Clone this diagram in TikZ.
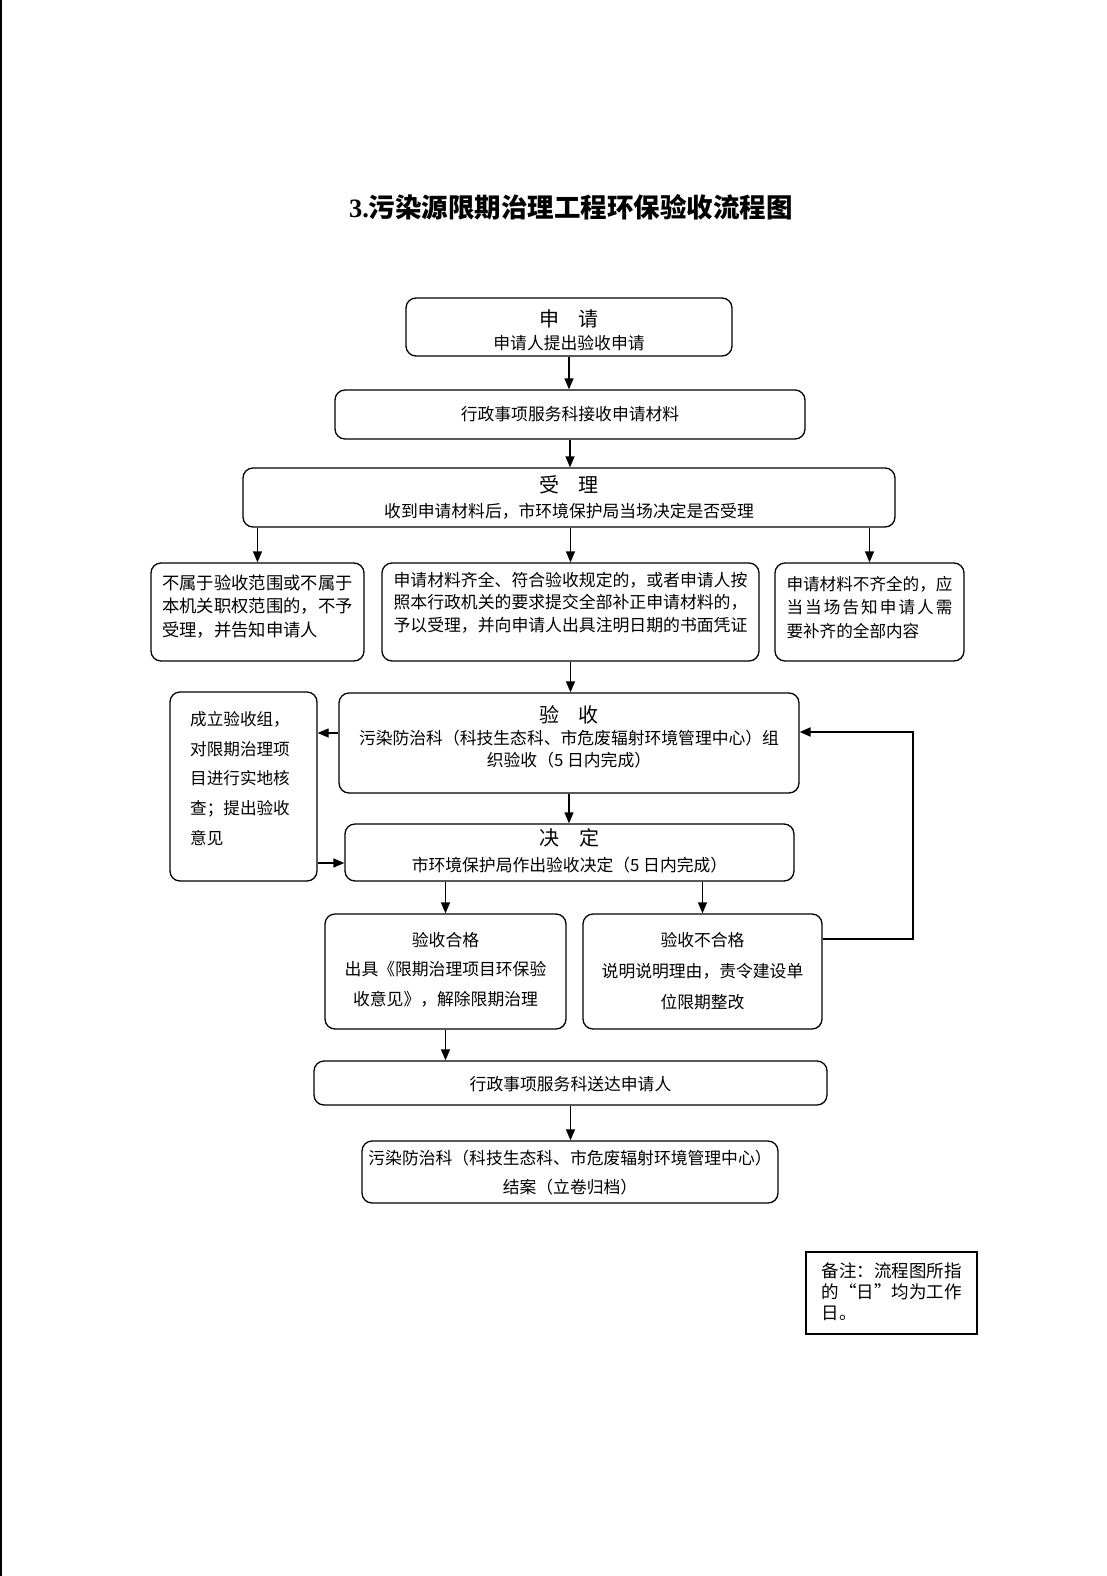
\documentclass[tikz,border=0pt]{standalone}
\usepackage{fontspec}
\setmainfont{Liberation Serif}
\newfontfamily\cjk{Noto Sans CJK SC}
\usetikzlibrary{arrows.meta}
\newcommand\fs[2]{\fontsize{#1}{#2}\selectfont}
\def\sprend{}
\def\sprx#1{\ifx#1\sprend\else\hfill#1\expandafter\sprx\fi}
\def\sprfirst#1{#1\sprx}
\newcommand\spreadto[2]{\hbox to #1{\sprfirst#2\sprend}}
\begin{document}
\begin{tikzpicture}[x=1pt,y=-1pt,
  box/.style={draw, rounded corners=10pt, line width=1.3pt, inner sep=0pt},
  notebox/.style={draw, line width=1.6pt, inner sep=0pt},
  txt/.style={font=\cjk\fs{16.8}{24}, align=center, inner sep=0pt},
  arr/.style={-{Triangle[length=11pt,width=9pt]}, line width=1.3pt},
  loopline/.style={-{Triangle[length=11pt,width=9pt]}, line width=2pt}]
\useasboundingbox (0,0) rectangle (1107,1576);
\draw[line width=1.6pt] (0.8,0) -- (0.8,1576);

% title
\node[inner sep=0pt] (title) at (571,207) {\fs{26.5}{30}{\bfseries 3.}{\cjk\bfseries 污染源限期治理工程环保验收流程图}};

% boxes
\node[box, minimum width=326pt, minimum height=58pt] (b1) at (569,327) {};
\node[txt, font=\cjk\fs{16.8}{23}] (t1) at ([yshift=-3pt]b1.center) {{\fs{20}{23}申\hspace{1em}请}\\申请人提出验收申请};

\node[box, minimum width=470pt, minimum height=49pt] (b2) at (570,414.5) {};
\node[txt] (t2) at (b2.center) {行政事项服务科接收申请材料};

\node[box, minimum width=652pt, minimum height=59pt] (b3) at (569,497.5) {};
\node[txt, font=\cjk\fs{16.8}{25}] (t3) at ([yshift=0.5pt]b3.center) {{\fs{20}{25}受\hspace{1em}理}\\收到申请材料后，市环境保护局当场决定是否受理};

\node[box, minimum width=213pt, minimum height=98pt] (b4a) at (257.5,612) {};
\node[txt, align=left, font=\cjk\fs{17.3}{23.5}] (t4a) at ([yshift=5.5pt]b4a.center) {不属于验收范围或不属于\\本机关职权范围的，不予\\受理，并告知申请人};

\node[box, minimum width=377pt, minimum height=98pt] (b4b) at (570.5,612) {};
\node[txt, align=left, font=\cjk\fs{16.85}{22.5}] (t4b) at ([yshift=9.5pt]b4b.center) {申请材料齐全、符合验收规定的，或者申请人按\\照本行政机关的要求提交全部补正申请材料的，\\予以受理，并向申请人出具注明日期的书面凭证};

\node[box, minimum width=189pt, minimum height=98pt] (b4c) at (869.5,612) {};
\node[txt, align=left, font=\cjk\fs{16.6}{23.5}] (t4c) at ([yshift=4.5pt]b4c.center) {申请材料不齐全的，应\\\spreadto{166pt}{当当场告知申请人需}\\要补齐的全部内容};

\node[box, minimum width=460pt, minimum height=100pt] (b5) at (569,743) {};
\node[txt, font=\cjk\fs{16.8}{22}] (t5) at ([yshift=6pt]b5.center) {{\fs{20}{22}验\hspace{1em}收}\\污染防治科（科技生态科、市危废辐射环境管理中心）组\\织验收（5 日内完成）};

\node[box, minimum width=147pt, minimum height=189pt] (bL) at (243.5,786.5) {};
\node[txt, align=left, font=\cjk\fs{16.6}{29.75}] (tL) at ([xshift=-3.5pt,yshift=8pt]bL.center) {成立验收组，\\对限期治理项\\目进行实地核\\查；提出验收\\意见};

\node[box, minimum width=449pt, minimum height=57pt] (b6) at (569.5,852.5) {};
\node[txt, font=\cjk\fs{16.8}{26}] (t6) at ([yshift=2pt]b6.center) {{\fs{20}{26}决\hspace{1em}定}\\市环境保护局作出验收决定（5 日内完成）};

\node[box, minimum width=241pt, minimum height=115pt] (b7a) at (445.5,971.5) {};
\node[txt, font=\cjk\fs{16.8}{29.5}] (t7a) at ([yshift=2pt]b7a.center) {验收合格\\出具《限期治理项目环保验\\收意见》，解除限期治理};

\node[box, minimum width=239pt, minimum height=115pt] (b7b) at (702.5,971.5) {};
\node[txt, font=\cjk\fs{16.8}{31}] (t7b) at ([yshift=0.5pt]b7b.center) {验收不合格\\说明说明理由，责令建设单\\位限期整改};

\node[box, minimum width=513pt, minimum height=44pt] (b8) at (570.5,1083) {};
\node[txt] (t8) at ([yshift=-1pt]b8.center) {行政事项服务科送达申请人};

\node[box, minimum width=416pt, minimum height=62pt] (b9) at (570,1172) {};
\node[txt, font=\cjk\fs{16.8}{29}] (t9) at ([yshift=-0.5pt]b9.center) {污染防治科（科技生态科、市危废辐射环境管理中心）\\结案（立卷归档）};

\node[notebox, minimum width=171pt, minimum height=82pt] (note) at (891.5,1293) {};
\node[txt, align=left, font=\cjk\fs{17.5}{21}] (tn) at ([yshift=1pt]note.center) {备注：流程图所指\\\spreadto{140pt}{的“日”均为工作}\\日。};

% connectors
\draw[arr] (b1.south) -- (b1.south |- b2.north);
\draw[arr] (b2.south) -- (b2.south |- b3.north);
\draw[arr] (b4a.north |- b3.south) -- (b4a.north);
\draw[arr] (b4b.north |- b3.south) -- (b4b.north);
\draw[arr] (b4c.north |- b3.south) -- (b4c.north);
\draw[arr] (b4b.south) -- (b4b.south |- b5.north);
\coordinate (p5w) at ([yshift=10pt]b5.west);
\draw[arr] (p5w) -- (p5w -| bL.east);
\coordinate (p6w) at ([yshift=-10.5pt]b6.west);
\draw[arr] (p6w -| bL.east) -- (p6w);
\draw[arr] (b5.south) -- (b5.south |- b6.north);
\draw[arr] (b7a.north |- b6.south) -- (b7a.north);
\draw[arr] (b7b.north |- b6.south) -- (b7b.north);
\coordinate (r5) at ([yshift=11pt]b5.east);
\coordinate (r7) at ([yshift=32.5pt]b7b.east);
\coordinate (lx) at (913,0);
\draw[loopline] (r7) -| (lx |- r5) -- (r5);
\draw[arr] (b7a.south) -- (b7a.south |- b8.north);
\draw[arr] (b8.south) -- (b8.south |- b9.north);
\end{tikzpicture}
\end{document}
